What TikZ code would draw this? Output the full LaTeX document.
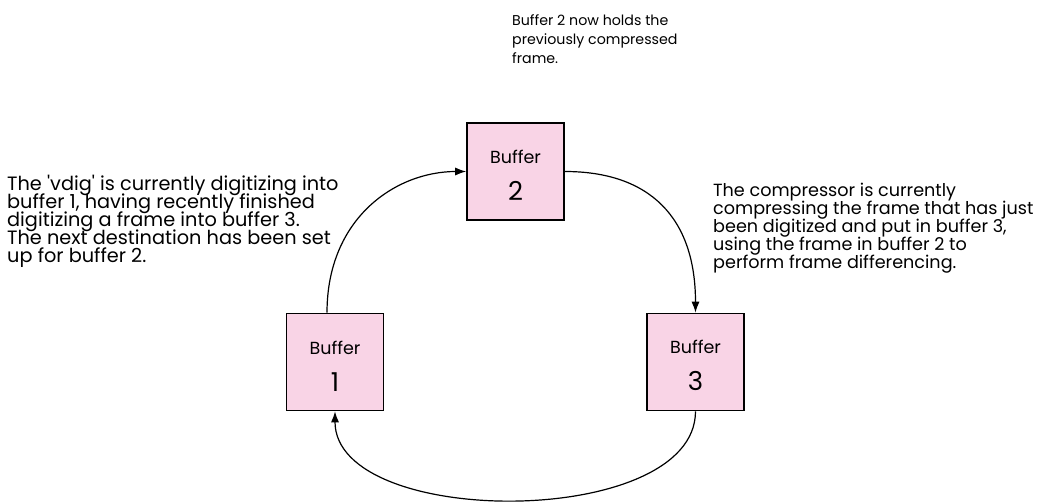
\documentclass[tikz,border=0pt]{standalone}
\usepackage{fontspec}
\setmainfont{Poppins}
\usetikzlibrary{arrows.meta}
\definecolor{boxpink}{RGB}{249,212,230}
\begin{document}
\begin{tikzpicture}[x=1pt,y=-1pt,
  bufbox/.style={draw=black,line width=1.6pt,fill=boxpink,minimum width=97pt,minimum height=97pt,inner sep=0pt,align=center,
    font={\fontsize{17.5}{31}\selectfont\lineskiplimit=-50pt}},
  note/.style={anchor=north west,align=left,inner sep=0pt},
  conn/.style={line width=1.2pt,-{Latex[length=11pt,width=8pt]}}]
\useasboundingbox (0,0) rectangle (1044,503);
\node[bufbox] (b1) at (335,362) {\rule{0pt}{21pt}Buffer\\[6pt]\fontsize{26}{31}\selectfont 1};
\node[bufbox] (b2) at (515.5,171.5) {\rule{0pt}{21pt}Buffer\\[6pt]\fontsize{26}{31}\selectfont 2};
\node[bufbox] (b3) at (695.5,362) {\rule{0pt}{21pt}Buffer\\[6pt]\fontsize{26}{31}\selectfont 3};
\coordinate (s1) at ([xshift=-8pt]b1.north);
\draw[conn] (s1) .. controls ++(0,-95) and ([xshift=-70pt]b2.west) .. (b2.west);
\draw[conn] (b2.east) .. controls ([xshift=85pt]b2.east) and ([yshift=95pt]b3.north) .. (b3.north);
\draw[conn] (b3.south) .. controls ([yshift=-118pt]b3.south) and ([yshift=-118pt]b1.south) .. (b1.south);
\node[note,font={\fontsize{14.2}{19}\selectfont\lineskiplimit=-50pt}] (t2) at (512,14) {Buffer 2 now holds the\\previously compressed\\frame.};
\node[note,font={\fontsize{19.3}{18}\selectfont\lineskiplimit=-50pt}] (t1) at (7,175) {The \textquotesingle vdig\textquotesingle{} is currently digitizing into\\buffer 1, having recently finished\\digitizing a frame into buffer 3.\\The next destination has been set\\up for buffer 2.};
\node[note,font={\fontsize{17.6}{18}\selectfont\lineskiplimit=-50pt}] (t3) at (713,183) {The compressor is currently\\compressing the frame that has just\\been digitized and put in buffer 3,\\using the frame in buffer 2 to\\perform frame differencing.};
\end{tikzpicture}
\end{document}
